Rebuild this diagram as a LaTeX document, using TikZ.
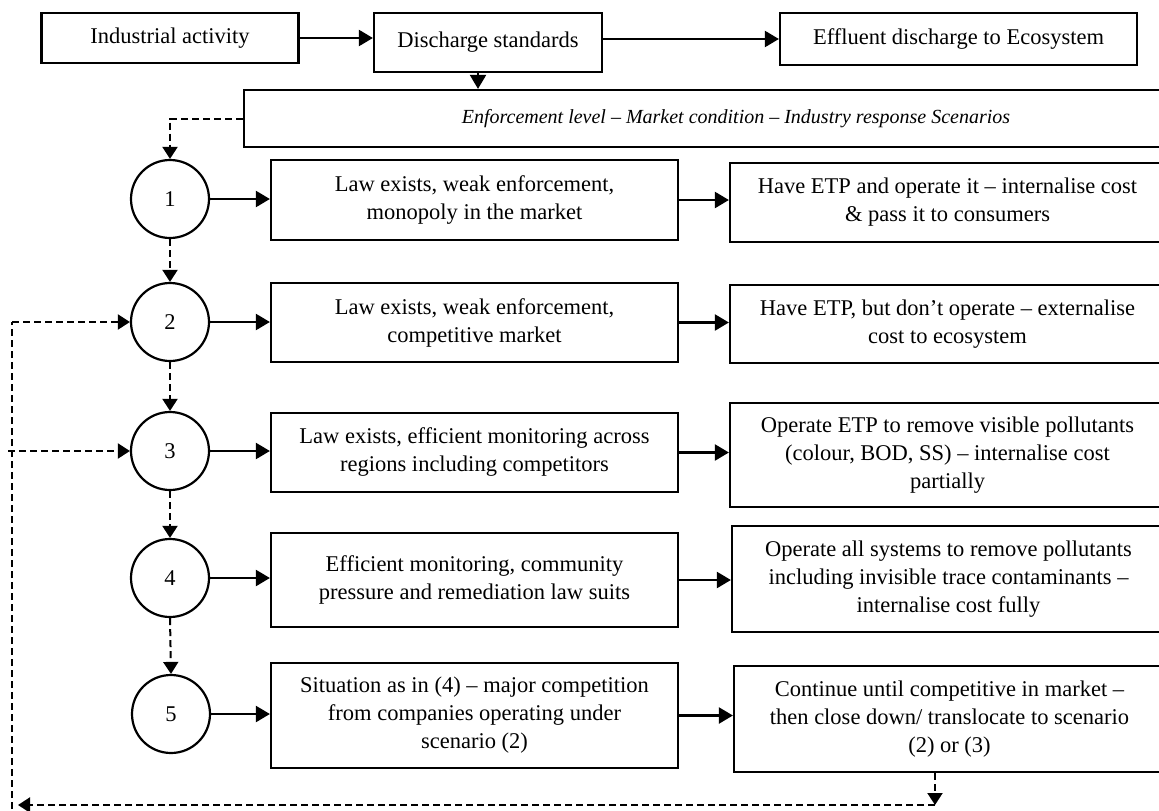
\documentclass[tikz,border=0pt]{standalone}
\usepackage{fontspec}
\setmainfont{Liberation Serif}
\usetikzlibrary{arrows.meta}
\begin{document}
\begin{tikzpicture}[x=1pt,y=-1pt,
  font=\fontsize{22.5}{28}\selectfont,
  box/.style={draw, line width=2.2pt, align=center, inner sep=0pt, anchor=center},
  circ/.style={draw, circle, line width=2.2pt, minimum size=78pt, inner sep=0pt},
  arr/.style={line width=2.2pt, -{Triangle[length=14pt,width=16pt]}},
  dsh/.style={line width=2pt, dash pattern=on 7pt off 4pt},
  darr/.style={dsh, -{Triangle[length=12pt,width=15pt]}}
]
\useasboundingbox (0,0) rectangle (1159,811);
\clip (0,0) rectangle (1159,811);
% top row
\node[box, minimum width=257pt, minimum height=50pt] (A) at (170,38) {Industrial activity};
\node[box, minimum width=228pt, minimum height=59pt] (B) at (488,42.5) {Discharge standards};
\node[box, minimum width=357pt, minimum height=52pt] (C) at (958.5,39) {Effluent discharge to Ecosystem};
\node[box, minimum width=984pt, minimum height=57pt] (E) at (736,118.5) {\fontsize{20}{24}\selectfont\itshape Enforcement level – Market condition – Industry response Scenarios};
\draw[arr] (A.east) -- (A.east -| B.west);
\draw[arr] (B.east |- C.west) -- (C.west);
\draw[arr] ([xshift=-10pt]B.south) -- ([xshift=-10pt]B.south |- E.north);
% circles
\node[circ] (c1) at (170,199) {1};
\node[circ] (c2) at (170,322) {2};
\node[circ] (c3) at (170,451) {3};
\node[circ] (c4) at (170,578) {4};
\node[circ] (c5) at (171,714) {5};
% left boxes
\node[box, minimum width=407pt, minimum height=80pt] (L1) at (474.5,200) {Law exists, weak enforcement,\\monopoly in the market};
\node[box, minimum width=407pt, minimum height=79pt] (L2) at (474.5,322.5) {Law exists, weak enforcement,\\competitive market};
\node[box, minimum width=407pt, minimum height=79pt] (L3) at (474.5,452.5) {Law exists, efficient monitoring across\\regions including competitors};
\node[box, minimum width=407pt, minimum height=94pt] (L4) at (474.5,580) {Efficient monitoring, community\\pressure and remediation law suits};
\node[box, minimum width=407pt, minimum height=105pt] (L5) at (474.5,715.5) {Situation as in (4) – major competition\\from companies operating under\\scenario (2)};
% right boxes
\node[box, minimum width=435pt, minimum height=79pt] (R1) at (947.5,202.5) {Have ETP and operate it – internalise cost\\\& pass it to consumers};
\node[box, minimum width=435pt, minimum height=78pt] (R2) at (947.5,324) {Have ETP, but don’t operate – externalise\\cost to ecosystem};
\node[box, minimum width=435pt, minimum height=104pt] (R3) at (947.5,455) {Operate ETP to remove visible pollutants\\(colour, BOD, SS) – internalise cost\\partially};
\node[box, minimum width=433pt, minimum height=106pt] (R4) at (948.5,579) {Operate all systems to remove pollutants\\including invisible trace contaminants –\\internalise cost fully};
\node[box, minimum width=431pt, minimum height=106pt] (R5) at (949.5,719) {Continue until competitive in market –\\then close down/ translocate to scenario\\(2) or (3)};
% row arrows
\foreach \i in {1,...,5}{
  \draw[arr] (c\i.east) -- (c\i.east -| L\i.west);
  \draw[arr] (L\i.east) -- (L\i.east -| R\i.west);
}
% dashed chain
\draw[darr] (E.west) -- (E.west -| c1.north) -- (c1.north);
\draw[darr] (c1.south) -- (c2.north);
\draw[darr] (c2.south) -- (c3.north);
\draw[darr] (c3.south) -- (c4.north);
\draw[darr] (c4.south) -- (c5.north);
% feedback loop
\coordinate (d1) at (935,805);
\coordinate (d2) at (12,805);
\coordinate (d3) at (12,809);
\coordinate (d4) at (12,322);
\coordinate (d5) at (8,451);
\draw[darr] (R5.south -| d1) -- (d1);
\draw[darr] (d1) -- ([xshift=6pt]d2);
\draw[dsh] (d3) -- (d4);
\draw[darr] (d4) -- (c2.west);
\draw[darr] (d5) -- (c3.west);
\end{tikzpicture}
\end{document}
